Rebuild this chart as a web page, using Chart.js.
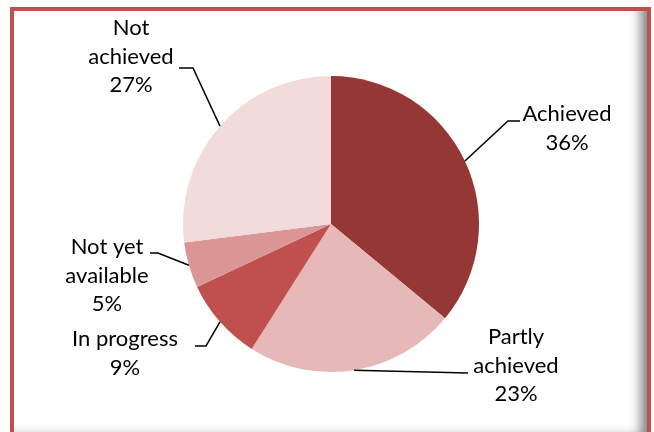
<!DOCTYPE html>
<html>
<head>
<meta charset="utf-8">
<script src="https://cdn.jsdelivr.net/npm/chart.js@4"></script>
<style>
  html, body { margin: 0; padding: 0; background: #fff; overflow: hidden; }
  #wrap { position: relative; width: 654px; height: 432px; }
  #frame {
    position: absolute; left: 10px; top: 7px; width: 641px; height: 440px;
    border: 4px solid #C0504D; border-bottom: none; box-sizing: border-box;
    box-shadow: inset -14px -18px 12px -8px rgba(0,0,0,0.5);
  }
  #pieChart { position: absolute; left: 0; top: 0; }
</style>
</head>
<body>
<div id="wrap">
  <div id="frame"></div>
  <canvas id="pieChart" width="654" height="432"></canvas>
</div>
<script>
// slices go clockwise from 12 o'clock
const categories = ["Achieved", "Partly achieved", "In progress", "Not yet available", "Not achieved"];
const values = [36, 23, 9, 5, 27];
const sliceColors = ["#953735", "#E6B9B8", "#C0504D", "#D99694", "#F2DCDB"];

// where each label sits: text centre x, first baseline y, leader elbow + end
const labelLayout = [
  { cx: 567, y: 121, elbow: [508, 121], end: [520, 121] },
  { cx: 516, y: 344, elbow: null, end: [468, 373] },
  { cx: 125, y: 346, elbow: [206, 346], end: [195, 346] },
  { cx: 107, y: 254, elbow: [158, 253], end: [150, 253] },
  { cx: 131, y: 35, elbow: [193, 68], end: [179, 68] },
];

function wrapText(ctx, text, maxW) {
  var words = text.split(" ");
  var lines = [];
  var cur = "";
  for (var i = 0; i < words.length; i++) {
    var test = cur ? cur + " " + words[i] : words[i];
    if (cur && ctx.measureText(test).width > maxW) {
      lines.push(cur);
      cur = words[i];
    } else {
      cur = test;
    }
  }
  lines.push(cur);
  return lines;
}

const pieLabels = {
  id: "pieLabels",
  afterDraw(chart) {
    const ctx = chart.ctx;
    const meta = chart.getDatasetMeta(0);
    const total = values.reduce((a, b) => a + b, 0);
    ctx.save();
    ctx.font = "22px Lato";
    ctx.fillStyle = "#000";
    ctx.strokeStyle = "#000";
    ctx.lineWidth = 1.5;
    ctx.textAlign = "center";
    ctx.textBaseline = "alphabetic";
    meta.data.forEach(function (arc, i) {
      const p = arc.getProps(["x", "y", "startAngle", "endAngle", "outerRadius"], true);
      const mid = (p.startAngle + p.endAngle) / 2;
      const sx = p.x + Math.cos(mid) * p.outerRadius;
      const sy = p.y + Math.sin(mid) * p.outerRadius;
      const lay = labelLayout[i];
      ctx.beginPath();
      ctx.moveTo(sx, sy);
      if (lay.elbow) ctx.lineTo(lay.elbow[0], lay.elbow[1]);
      ctx.lineTo(lay.end[0], lay.end[1]);
      ctx.stroke();

      const lines = wrapText(ctx, categories[i], 118);
      lines.push(Math.round(values[i] / total * 100) + "%");
      lines.forEach(function (ln, k) {
        ctx.fillText(ln, lay.cx, lay.y + k * 28.5);
      });
    });
    ctx.restore();
  },
};

const piechart = document.getElementById("pieChart").getContext("2d");
const pieChart = new Chart(piechart, {
  type: "pie",
  data: {
    labels: categories,
    datasets: [
      {
        data: values,
        backgroundColor: sliceColors,
        borderWidth: 0,
        hoverOffset: 0,
      },
    ],
  },
  options: {
    responsive: false,
    animation: false,
    layout: {
      padding: { left: 183, right: 175, top: 76, bottom: 60 },
    },
    plugins: {
      legend: { display: false },
      tooltip: { enabled: false },
    },
  },
  plugins: [pieLabels],
});
</script>
</body>
</html>
